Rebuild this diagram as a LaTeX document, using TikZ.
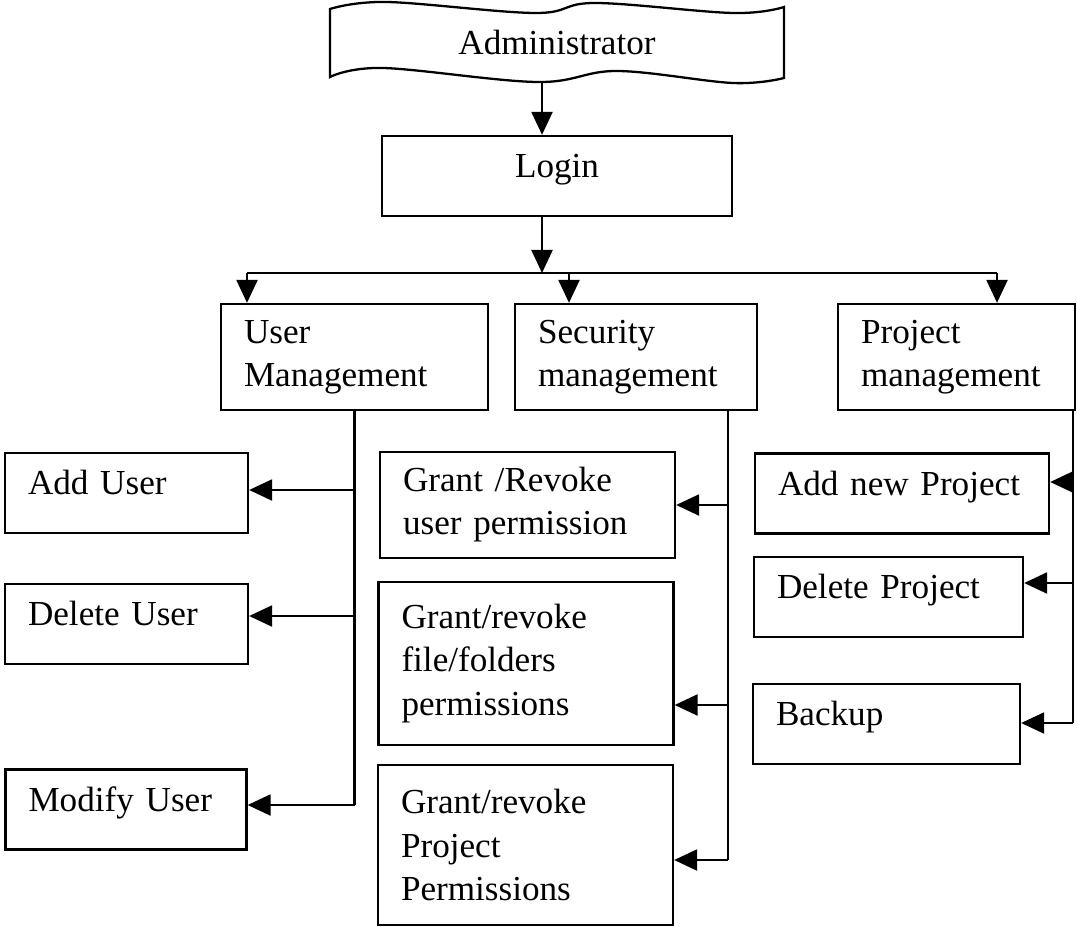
\documentclass[tikz,border=0pt]{standalone}
\usepackage{fontspec}
\setmainfont{Liberation Serif}
\usetikzlibrary{shapes,arrows.meta,positioning}

\begin{document}
\begin{tikzpicture}[font=\fontsize{20}{24.5}\selectfont]
	\tikzstyle{Box}    = [draw, line width=1.3pt, inner xsep=0.46cm, inner ysep=2pt, align=left]
	\tikzstyle{Single} = [text height=14pt, text depth=12pt]
	\tikzstyle{Tall}   = [minimum height=2.12cm]
	\tikzstyle{Short}  = [minimum height=1.6cm]
	\tikzstyle{Line}   = [line width=1.3pt]
	\tikzstyle{Arrow}  = [line width=1.3pt, -{Triangle[length=0.46cm,width=0.42cm]}]

	\useasboundingbox (0,0) rectangle (21.54,-18.54);

	% the banner round Administrator
	\draw [Line] plot [smooth, tension=0.6] coordinates {(6.6,-0.18) (7.74,-0.04) (10.7,-0.26) (11.9,-0.06) (14.66,-0.26) (15.68,-0.14)}
		-- plot [smooth, tension=0.6] coordinates {(15.68,-1.56) (14.66,-1.66) (12.34,-1.42) (10.74,-1.64) (7.66,-1.36) (6.6,-1.54)} -- cycle;

	\node (admin) at (11.14,-0.84) [minimum width=9.08cm, minimum height=1.6cm] {Administrator};
	\node (login) at (11.14,-3.52) [Box][Single][Short][minimum width=7cm, align=center] {Login};

	\node (usermgmt) at (7.09,-7.14) [Box][Tall][text width=4.42cm] {User\\Management};
	\node (secmgmt) at (12.72,-7.14) [Box][Tall][text width=3.92cm] {Security\\management};
	\node (projmgmt) at (19.13,-7.14) [Box][Tall][text width=3.82cm] {Project\\management};

	\node (adduser) at (2.53,-9.86) [Box][Single][Short][text width=3.94cm] {Add User};
	\node (deluser) at (2.53,-12.48) [Box][Single][Short][text width=3.94cm] {Delete User};
	\node (moduser) at (2.52,-16.19) [Box][Single][Short][text width=3.9cm] {Modify User};

	\node (gruser) at (10.55,-10.1) [Box][Tall][text width=4.98cm] {Grant /Revoke\\user permission};
	\node (grfile) at (10.52,-13.27) [Box][minimum height=3.26cm][text width=4.98cm] {Grant/revoke\\file/folders\\permissions};
	\node (grproj) at (10.51,-16.9) [Box][minimum height=3.2cm][text width=4.98cm] {Grant/revoke\\Project\\Permissions};

	\node (addproj) at (18.04,-9.87) [Box][Single][Short][text width=4.96cm] {Add new Project};
	\node (delproj) at (17.77,-11.94) [Box][Single][Short][text width=4.46cm] {Delete Project};
	\node (backup) at (17.73,-14.48) [Box][Single][Short][text width=4.42cm] {Backup};

	\coordinate (split) at (10.84,-5.46);
	\coordinate (barL) at (4.94,-5.46);
	\coordinate (barM) at (11.38,-5.46);
	\coordinate (barR) at (19.94,-5.46);

	\coordinate (u1) at (7.09,-9.8);
	\coordinate (u2) at (7.09,-12.32);
	\coordinate (u3) at (7.09,-16.1);
	\coordinate (s1) at (14.56,-10.1);
	\coordinate (s2) at (14.56,-14.1);
	\coordinate (s3) at (14.56,-17.2);
	\coordinate (p1) at (21.46,-9.64);
	\coordinate (p2) at (21.46,-11.66);
	\coordinate (p3) at (21.46,-14.46);

	\draw [Arrow] (admin.south -| split) to (split |- login.north);
	\draw [Arrow] (login.south -| split) to (split);
	\draw [Line] (barL) to (barR);
	\draw [Arrow] (barL) to (barL |- usermgmt.north);
	\draw [Arrow] (barM) to (barM |- secmgmt.north);
	\draw [Arrow] (barR) to (barR |- projmgmt.north);

	\draw [Line] (usermgmt.south) to (u3);
	\draw [Arrow] (u1) to (u1 -| adduser.east);
	\draw [Arrow] (u2) to (u2 -| deluser.east);
	\draw [Arrow] (u3) to (u3 -| moduser.east);

	\draw [Line] (s1 |- secmgmt.south) to (s3);
	\draw [Arrow] (s1) to (s1 -| gruser.east);
	\draw [Arrow] (s2) to (s2 -| grfile.east);
	\draw [Arrow] (s3) to (s3 -| grproj.east);

	\draw [Line] (p1 |- projmgmt.south) to (p3);
	\draw [Arrow] (p1) to (p1 -| addproj.east);
	\draw [Arrow] (p2) to (p2 -| delproj.east);
	\draw [Arrow] (p3) to (p3 -| backup.east);
\end{tikzpicture}
\end{document}
